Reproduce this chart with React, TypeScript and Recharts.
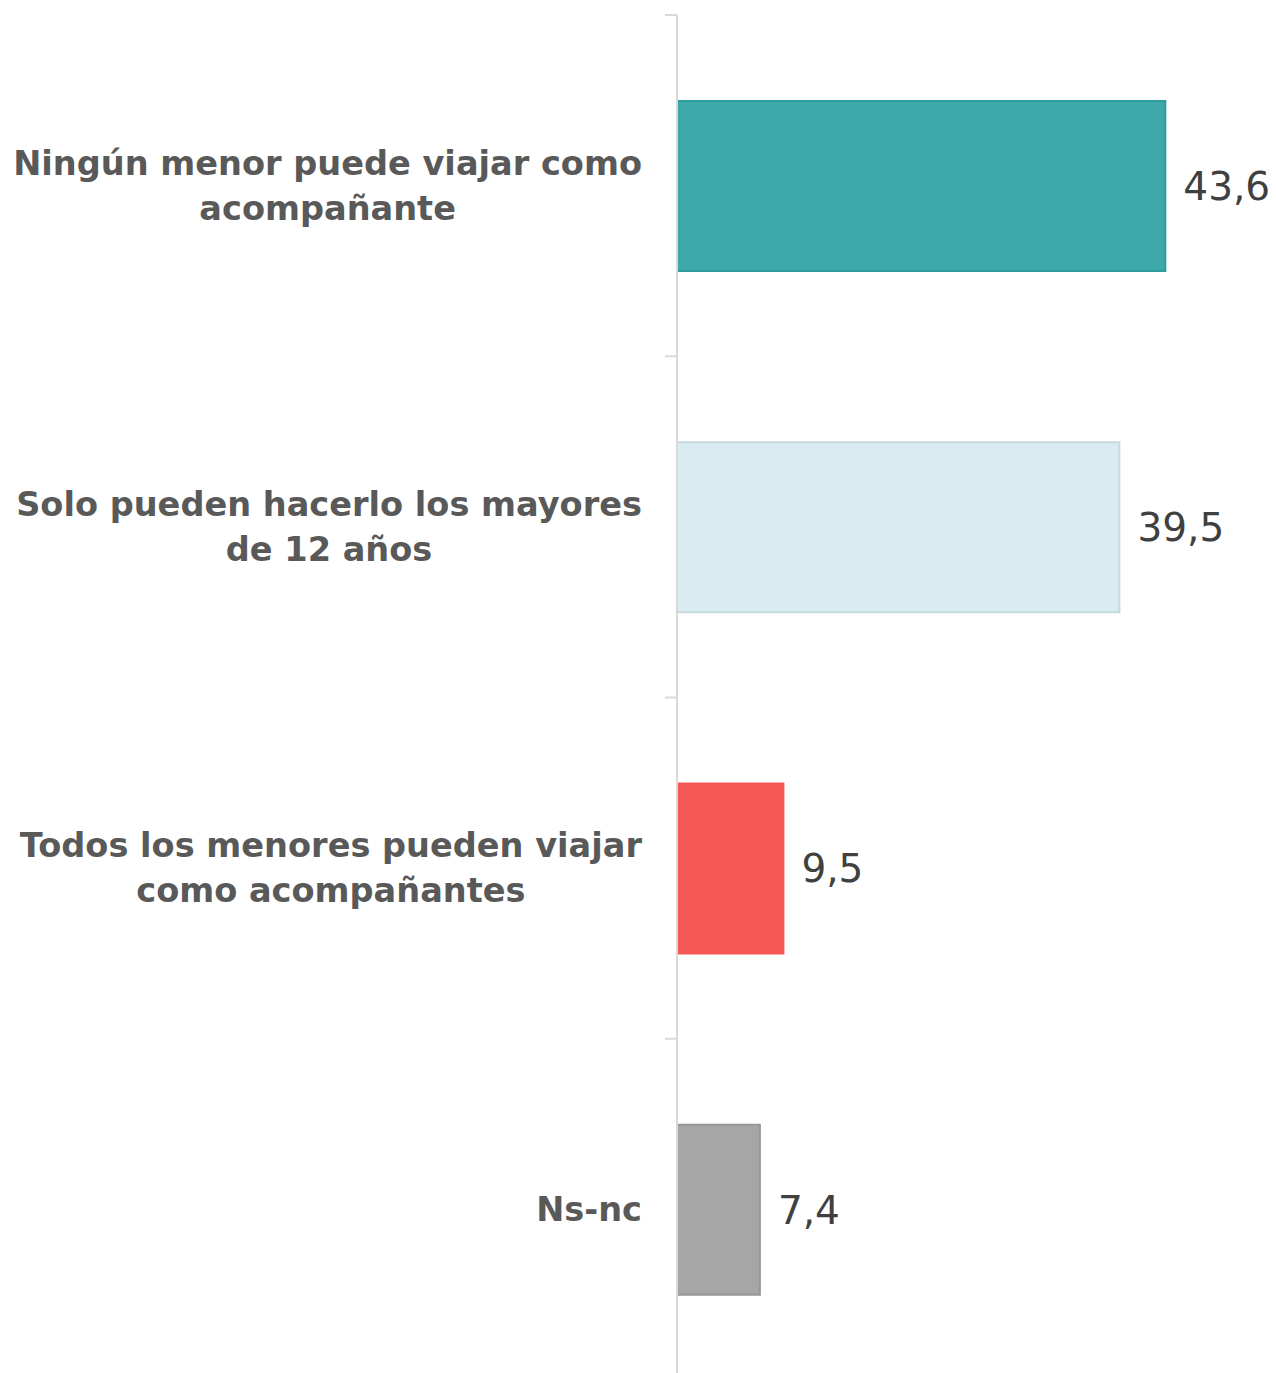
import React from "react";
import { BarChart, Bar, XAxis, YAxis, Cell, LabelList } from "recharts";

const categories = [
  "Ningún menor puede viajar como\nacompañante",
  "Solo pueden hacerlo los mayores\nde 12 años",
  "Todos los menores pueden viajar\ncomo acompañantes",
  "Ns-nc",
];
const values = [43.6, 39.5, 9.5, 7.4];
const fills = ["#3ca8a9", "#d9ecf2", "#f55956", "#a6a6a6"];
const strokes = ["#2f9c9c", "#c6d9df", "#f55956", "#979797"];

const data = categories.map((name, i) => ({ name, value: values[i] }));

const LABEL_FONT = "bold 33.6px 'DejaVu Sans'";
let measureCtx: CanvasRenderingContext2D | null = null;
function measure(text: string): number {
  if (!measureCtx) {
    const c = document.createElement("canvas");
    measureCtx = c.getContext("2d");
  }
  if (!measureCtx) return text.length * 20;
  measureCtx.font = LABEL_FONT;
  return measureCtx.measureText(text).width;
}

const TICK_SIZE = 12;
const TICK_MARGIN = 23;

function CategoryTick(props: any) {
  const { x, y, payload } = props;
  const lines: string[] = String(payload.value).split("\n");
  const maxW = Math.max(...lines.map((l) => measure(l)));
  const cx = x - maxW / 2;
  const lh = 45;
  const start = y - ((lines.length - 1) * lh) / 2;
  const half = payload && payload.offset ? payload.offset : 0;
  const axisX = x + TICK_SIZE + TICK_MARGIN;
  return (
    <g>
      <line x1={axisX - TICK_SIZE} x2={axisX} y1={y - half} y2={y - half} stroke="#d9d9d9" strokeWidth={2} />
      {lines.map((l, i) => (
        <text
          key={i}
          x={cx}
          y={start + i * lh}
          textAnchor="middle"
          dominantBaseline="central"
          fill="#595959"
          style={{ font: LABEL_FONT }}
        >
          {l}
        </text>
      ))}
    </g>
  );
}

const css = `
html, body { overflow: hidden; }
.recharts-wrapper, .recharts-surface { overflow: visible !important; }
`;

export default function App() {
  return (
    <div style={{ width: 1260 }}>
      <style>{css}</style>
      <BarChart
        width={1260}
        height={1372}
        data={data}
        layout="vertical"
        margin={{ top: 7, right: 31, bottom: 0, left: 0 }}
      >
        <XAxis type="number" domain={[0, 50]} hide />
        <YAxis
          type="category"
          dataKey="name"
          width={669}
          tickSize={TICK_SIZE}
          tickMargin={TICK_MARGIN}
          axisLine={{ stroke: "#d9d9d9", strokeWidth: 2 }}
          tickLine={false}
          tick={<CategoryTick />}
          interval={0}
        />
        <Bar dataKey="value" barSize={170} isAnimationActive={false} strokeWidth={2}>
          {data.map((d, i) => (
            <Cell key={i} fill={fills[i]} stroke={strokes[i]} />
          ))}
          <LabelList
            dataKey="value"
            position="right"
            offset={18}
            formatter={(v: any) => String(v).replace(".", ",")}
            style={{ font: "39px 'DejaVu Sans'", fill: "#404040" }}
          />
        </Bar>
      </BarChart>
    </div>
  );
}
